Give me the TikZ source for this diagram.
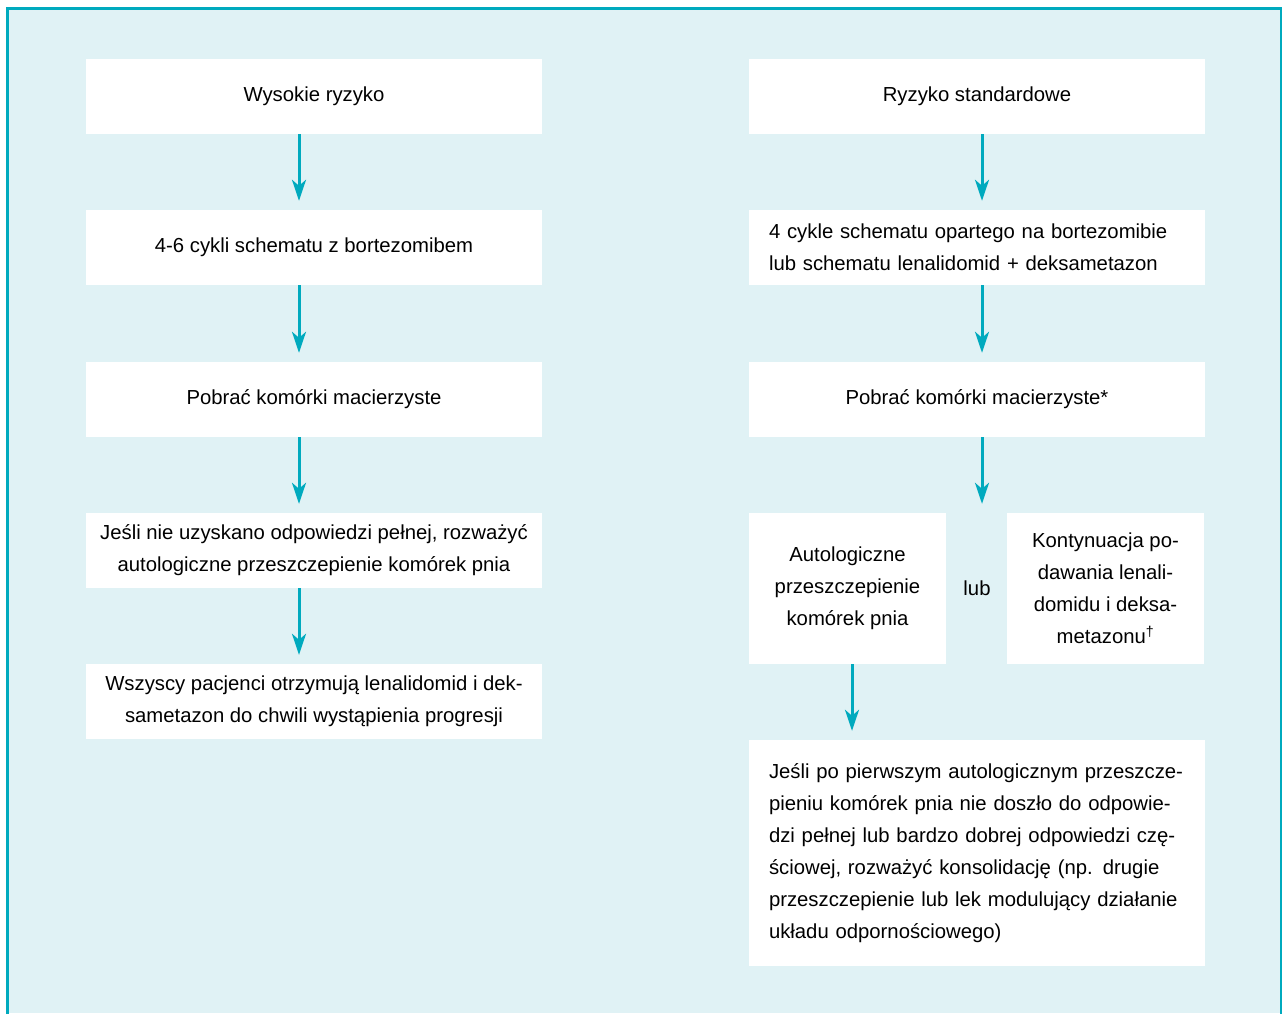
\documentclass[tikz,border=0pt]{standalone}
\usepackage{fontspec}
\setmainfont{Liberation Sans}
\usetikzlibrary{arrows.meta}
\definecolor{teal1}{RGB}{0,170,190}
\definecolor{bgc}{RGB}{224,242,245}
\tikzset{
  box/.style={fill=white, inner sep=0pt, minimum width=456pt, minimum height=75pt, align=center,
    font=\fontsize{20.3}{32}\selectfont},
  halfbox/.style={box, minimum width=197pt, minimum height=151pt},
  arr/.style={draw=teal1, line width=3pt, -{Stealth[length=21pt,width=14pt,inset=6pt]}, shorten >=9pt},
}
\begin{document}
\begin{tikzpicture}[x=1pt,y=-1pt]
\useasboundingbox (0,0) rectangle (1282,1013);
\fill[bgc] (7.5,8) rectangle (1282,1013);
\draw[teal1, line width=3pt] (7.5,1014) -- (7.5,8) -- (1281,8) -- (1281,1014);

\node[box] (L1) at (314,96.5) {Wysokie ryzyko};
\node[box] (L2) at (314,247.5) {4-6 cykli schematu z bortezomibem};
\node[box] (L3) at (314,399.5) {Pobrać komórki macierzyste};
\node[box] (L4) at (314,550.5) {Jeśli nie uzyskano odpowiedzi pełnej, rozważyć\\autologiczne przeszczepienie komórek pnia};
\node[box] (L5) at (314,701.5) {Wszyscy pacjenci otrzymują lenalidomid i dek-\\sametazon do chwili wystąpienia progresji};

\node[box] (R1) at (977,96.5) {Ryzyko standardowe};
\node[box, align=left, text width=416pt, inner xsep=20pt] (R2) at (977,247.5) {4 cykle schematu opartego na bortezomibie\\lub schematu lenalidomid + deksametazon};
\node[box] (R3) at (977,399.5) {Pobrać komórki macierzyste*};
\node[halfbox] (R4a) at (847.5,588.5) {Autologiczne\\przeszczepienie\\komórek pnia};
\node[halfbox] (R4b) at (1105.5,588.5) {Kontynuacja po-\\dawania lenali-\\domidu i deksa-\\metazonu\textsuperscript{†}};
\node[font=\fontsize{20.3}{32}\selectfont, inner sep=0pt] (lub) at (977,588.5) {lub};
\node[box, align=left, text width=416pt, inner xsep=20pt, minimum height=226pt] (R5) at (977,853) {Jeśli po pierwszym autologicznym przeszcze-\\pieniu komórek pnia nie doszło do odpowie-\\dzi pełnej lub bardzo dobrej odpowiedzi czę-\\ściowej, rozważyć konsolidację (np. drugie\\przeszczepienie lub lek modulujący działanie\\układu odpornościowego)};

\draw[arr] ([xshift=-15pt]L1.south) -- ([xshift=-15pt]L2.north);
\draw[arr] ([xshift=-15pt]L2.south) -- ([xshift=-15pt]L3.north);
\draw[arr] ([xshift=-15pt]L3.south) -- ([xshift=-15pt]L4.north);
\draw[arr] ([xshift=-15pt]L4.south) -- ([xshift=-15pt]L5.north);
\draw[arr] ([xshift=5pt]R1.south) -- ([xshift=5pt]R2.north);
\draw[arr] ([xshift=5pt]R2.south) -- ([xshift=5pt]R3.north);
\draw[arr] ([xshift=5pt]R3.south) -- ([xshift=5pt]R3.south |- R4a.north);
\draw[arr] ([xshift=4.5pt]R4a.south) -- ([xshift=4.5pt]R4a.south |- R5.north);
\end{tikzpicture}
\end{document}
